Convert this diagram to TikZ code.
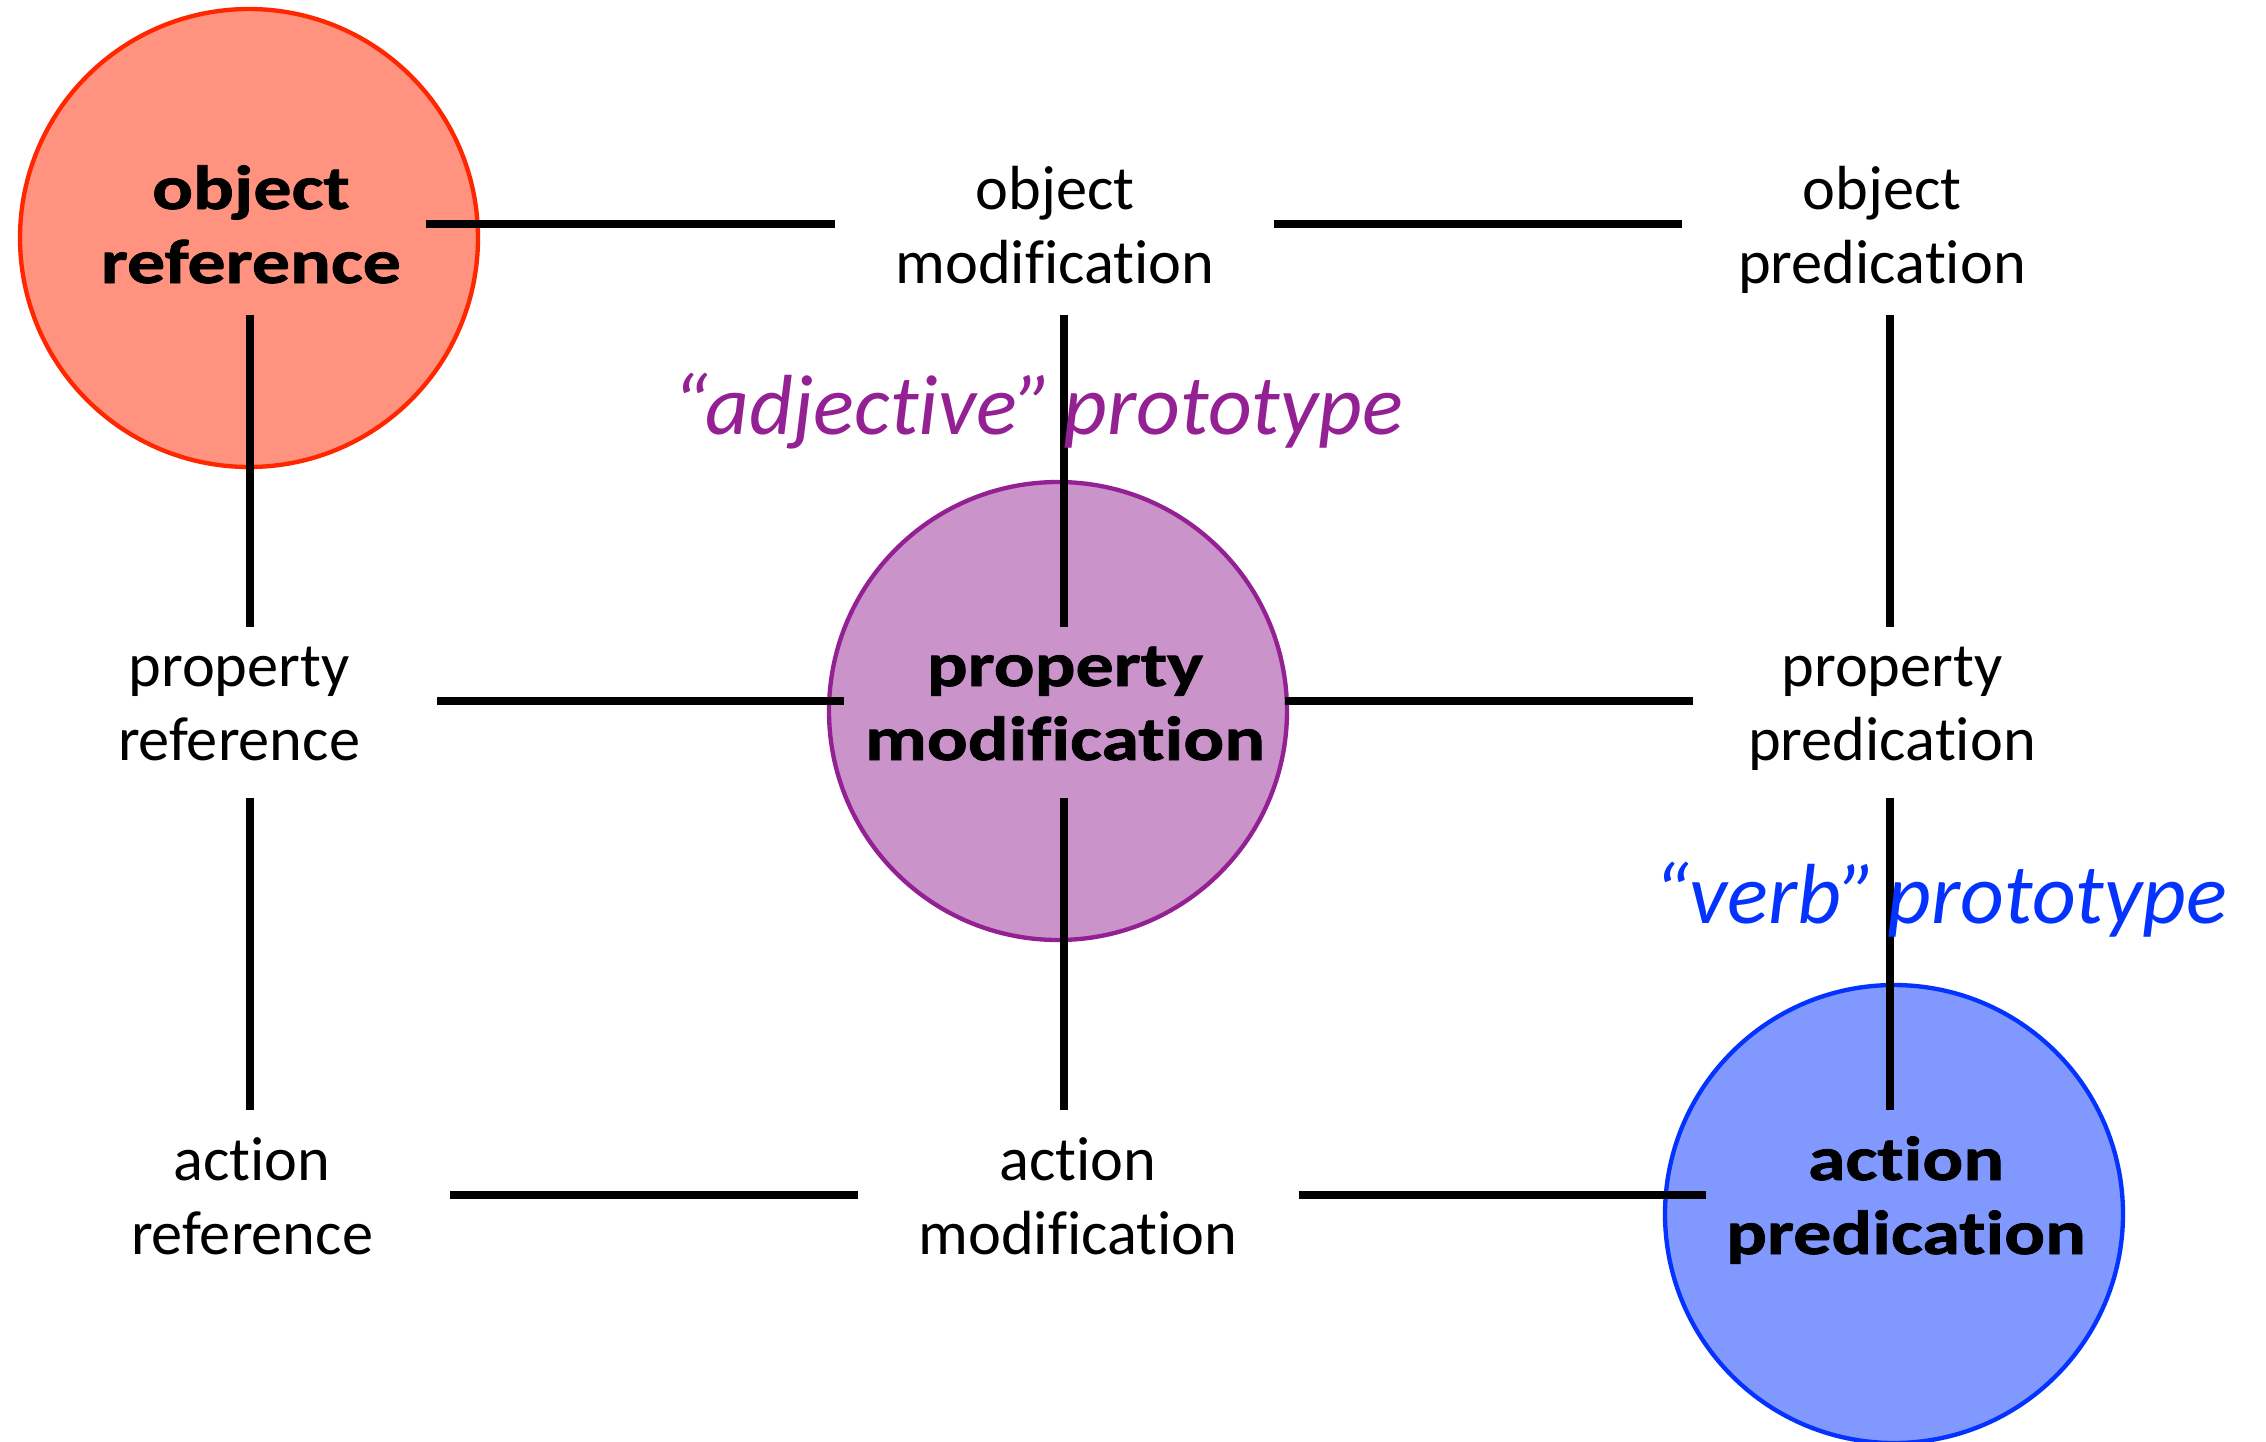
\documentclass[tikz,border=0pt]{standalone}
\usepackage{fontspec}
\setmainfont{Carlito}[Ligatures={NoCommon,TeX}]
\newfontfamily\heavy{Carlito}[FakeStretch=1.22,Ligatures={NoCommon,TeX},BoldFeatures={FakeBold=1.2}]
\definecolor{redF}{HTML}{FF937F}
\definecolor{redB}{HTML}{FF2600}
\definecolor{purF}{HTML}{CA93C9}
\definecolor{purB}{HTML}{942193}
\definecolor{bluF}{HTML}{8199FE}
\definecolor{bluB}{HTML}{0433FF}
\begin{document}
\begin{tikzpicture}[x=0.3pt,y=-0.3pt,
  lbl/.style={align=center, anchor=base, inner sep=0pt, font=\fontsize{18.7}{22.2}\selectfont},
  blbl/.style={lbl, font=\fontsize{18.7}{22.2}\selectfont\heavy\bfseries},
  disc/.style={circle, minimum size=137.4pt, inner sep=0pt, line width=1.3pt},
  link/.style={line width=2.2pt, black},
  proto/.style={anchor=base west, inner sep=0pt, font=\fontsize{25.6}{30}\selectfont\itshape}]
\useasboundingbox (0,0) rectangle (2266,1442);
\fill[white] (0,0) rectangle (2266,1442);
% circles
\node[disc, draw=redB, fill=redF] (cOR) at (249,238) {};
\node[disc, draw=purB, fill=purF] (cPM) at (1058,711) {};
\node[disc, draw=bluB, fill=bluF] (cAP) at (1894,1214) {};
% grid points
\coordinate (g11) at (250,224);
\coordinate (g12) at (1064,224);
\coordinate (g13) at (1890,224);
\coordinate (g21) at (250,701);
\coordinate (g22) at (1064,701);
\coordinate (g23) at (1890,701);
\coordinate (g31) at (250,1195);
\coordinate (g32) at (1064,1195);
\coordinate (g33) at (1890,1195);
% horizontal connectors
\draw[link, shorten <=52.8pt, shorten >=68.7pt] (g11) -- (g12);
\draw[link, shorten <=63pt, shorten >=62.4pt] (g12) -- (g13);
\draw[link, shorten <=56.1pt, shorten >=66pt] (g21) -- (g22);
\draw[link, shorten <=66.3pt, shorten >=59.1pt] (g22) -- (g23);
\draw[link, shorten <=60pt, shorten >=61.8pt] (g31) -- (g32);
\draw[link, shorten <=70.5pt, shorten >=55.2pt] (g32) -- (g33);
% vertical connectors
\foreach \c in {1,2,3}{
  \draw[link, shorten <=27.3pt, shorten >=22.2pt] (g1\c) -- (g2\c);
  \draw[link, shorten <=29.1pt, shorten >=25.5pt] (g2\c) -- (g3\c);
}
% labels (anchor = baseline of the last line)
\node[blbl] (tOR) at (251,283) {object\\reference};
\node[lbl] (tOM) at (1055,283) {object\\modification};
\node[lbl] (tOP) at (1882,283) {object\\predication};
\node[lbl] (tPR) at (239,760) {property\\reference};
\node[blbl] (tPM) at (1065,760) {property\\modification};
\node[lbl] (tPP) at (1892,760) {property\\predication};
\node[lbl] (tAR) at (252,1254) {action\\reference};
\node[lbl] (tAM) at (1078,1254) {action\\modification};
\node[blbl] (tAP) at (1906,1254) {action\\predication};
\node[proto, text=purB] (adj) at (672,434) {``adjective''\hspace{-0.1em} prototype};
\node[proto, text=bluB] (verb) at (1653,923) {``verb''\hspace{-0.1em} prototype};
\end{tikzpicture}
\end{document}
